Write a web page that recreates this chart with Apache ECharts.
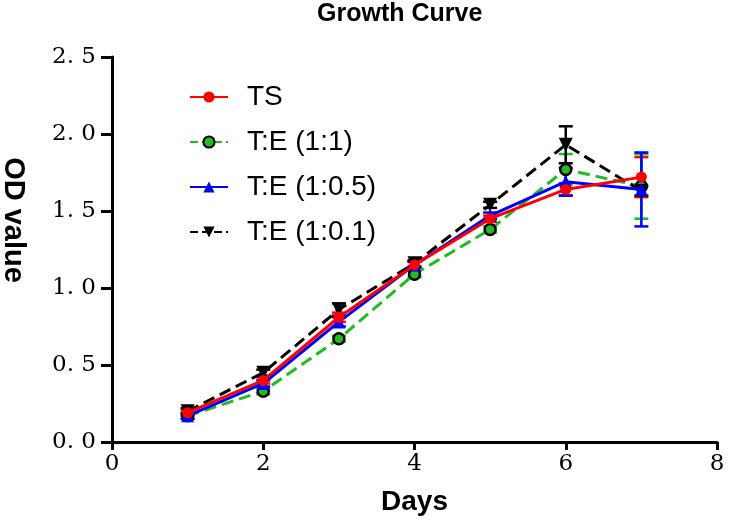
<!DOCTYPE html>
<html><head><meta charset="utf-8">
<script src="https://cdn.jsdelivr.net/npm/echarts@6/dist/echarts.min.js"></script>
<style>html,body{margin:0;padding:0;background:#fff}#c{width:735px;height:523px}</style>
</head><body><div id="c"></div>
<script>
const days = [1, 2, 3, 4, 5, 6, 7];
const seriesNames = ['TS', 'T:E (1:1)', 'T:E (1:0.5)', 'T:E (1:0.1)'];
const tsValues   = [0.19, 0.40, 0.81, 1.15, 1.45, 1.64, 1.72];
const te11Values = [0.17, 0.33, 0.67, 1.09, 1.38, 1.77, 1.66];
const te105Values= [0.17, 0.38, 0.78, 1.15, 1.47, 1.69, 1.64];
const te101Values= [0.20, 0.45, 0.86, 1.16, 1.54, 1.93, 1.63];
const tsErr   = [0.02, 0.02, 0.03, 0.02, 0.02, 0.04, 0.13];
const te11Err = [0.02, 0.02, 0.02, 0.02, 0.02, 0.10, 0.21];
const te105Err= [0.02, 0.02, 0.03, 0.02, 0.02, 0.09, 0.24];
const te101Err= [0.02, 0.02, 0.04, 0.02, 0.02, 0.12, 0.03];
const xTicks = [0, 2, 4, 6, 8];
const yTicks = [0, 0.5, 1.0, 1.5, 2.0, 2.5];

const colors = ['#ff0000', '#22bb22', '#0000ff', '#000000'];
const values = [tsValues, te11Values, te105Values, te101Values];
const errs = [tsErr, te11Err, te105Err, te101Err];
const triDown = 'path://M0,0 L10,0 L5,9 Z';
const symbols = ['circle', 'circle', 'triangle', triDown];
const symbolSizes = [11, 11, 13, 14];
const lineTypes = ['solid', 'dashed', 'solid', 'dashed'];

const chart = echarts.init(document.getElementById('c'));
const series = [];
values.forEach((vals, i) => {
  series.push({
    type: 'custom',
    name: seriesNames[i] + ' err',
    z: 1,
    silent: true,
    data: days.map((d, k) => [d, vals[k] - errs[i][k], vals[k] + errs[i][k]]),
    renderItem: function (params, api) {
      const lo = api.coord([api.value(0), api.value(1)]);
      const hi = api.coord([api.value(0), api.value(2)]);
      const hw = 7;
      const st = { stroke: colors[i], lineWidth: 2.5 };
      return { type: 'group', children: [
        { type: 'line', shape: { x1: lo[0], y1: lo[1], x2: hi[0], y2: hi[1] }, style: st },
        { type: 'line', shape: { x1: lo[0] - hw, y1: lo[1], x2: lo[0] + hw, y2: lo[1] }, style: st },
        { type: 'line', shape: { x1: hi[0] - hw, y1: hi[1], x2: hi[0] + hw, y2: hi[1] }, style: st }
      ]};
    }
  });
});
[1, 3, 2, 0].forEach(i => {
  series.push({
    type: 'line',
    name: seriesNames[i],
    data: days.map((d, k) => [d, values[i][k]]),
    symbol: symbols[i],
    symbolSize: symbolSizes[i],
    z: 5 + (i === 0 ? 4 : i === 2 ? 3 : i === 3 ? 2 : 1),
    lineStyle: { color: colors[i], width: 3, type: lineTypes[i] },
    itemStyle: { color: colors[i], borderColor: i === 1 ? '#000' : colors[i], borderWidth: i === 1 ? 2.5 : 0 },
    animation: false
  });
});

chart.setOption({
  animation: false,
  backgroundColor: '#fff',
  title: { text: 'Growth Curve', left: 312, top: -3, textStyle: { fontFamily: 'Liberation Sans, Arial', fontWeight: 'bold', fontSize: 25, color: '#000' } },
  legend: {
    data: seriesNames,
    orient: 'vertical', left: 184, top: 78,
    itemWidth: 38, itemHeight: 14, itemGap: 17,
    textStyle: { fontFamily: 'Liberation Sans, Arial', fontSize: 28, color: '#000', padding: [0, 0, 0, 14] }
  },
  graphic: [{
    type: 'text', x: 13, y: 220, rotation: -Math.PI / 2,
    style: { text: 'OD value', fontFamily: 'Liberation Sans, Arial', fontWeight: 'bold', fontSize: 29, fill: '#000', align: 'center', verticalAlign: 'middle' }
  }],
  grid: { left: 112, right: 18, top: 57, bottom: 81 },
  xAxis: {
    type: 'value', min: 0, max: 8, interval: 2,
    name: 'Days', nameLocation: 'middle', nameGap: 46,
    nameTextStyle: { fontFamily: 'Liberation Sans, Arial', fontWeight: 'bold', fontSize: 28, color: '#000' },
    axisLine: { lineStyle: { color: '#000', width: 3 } },
    axisTick: { lineStyle: { color: '#000', width: 3 }, length: 8 },
    axisLabel: { fontFamily: 'DejaVu Serif, serif', fontSize: 23, color: '#000', margin: 11,
      formatter: v => xTicks.includes(v) ? String(v) : '' },
    splitLine: { show: false }
  },
  yAxis: {
    type: 'value', min: 0, max: 2.5, interval: 0.5,
    axisLine: { show: true, lineStyle: { color: '#000', width: 3 } },
    axisTick: { show: true, lineStyle: { color: '#000', width: 3 }, length: 11 },
    axisLabel: { fontFamily: 'DejaVu Serif, serif', fontSize: 23, color: '#000', margin: 16,
      formatter: v => { const t = yTicks.find(y => Math.abs(y - v) < 1e-9); return t === undefined ? '' : t.toFixed(1).replace('.', '. '); } },
    splitLine: { show: false }
  },
  series: series
});
</script></body></html>
